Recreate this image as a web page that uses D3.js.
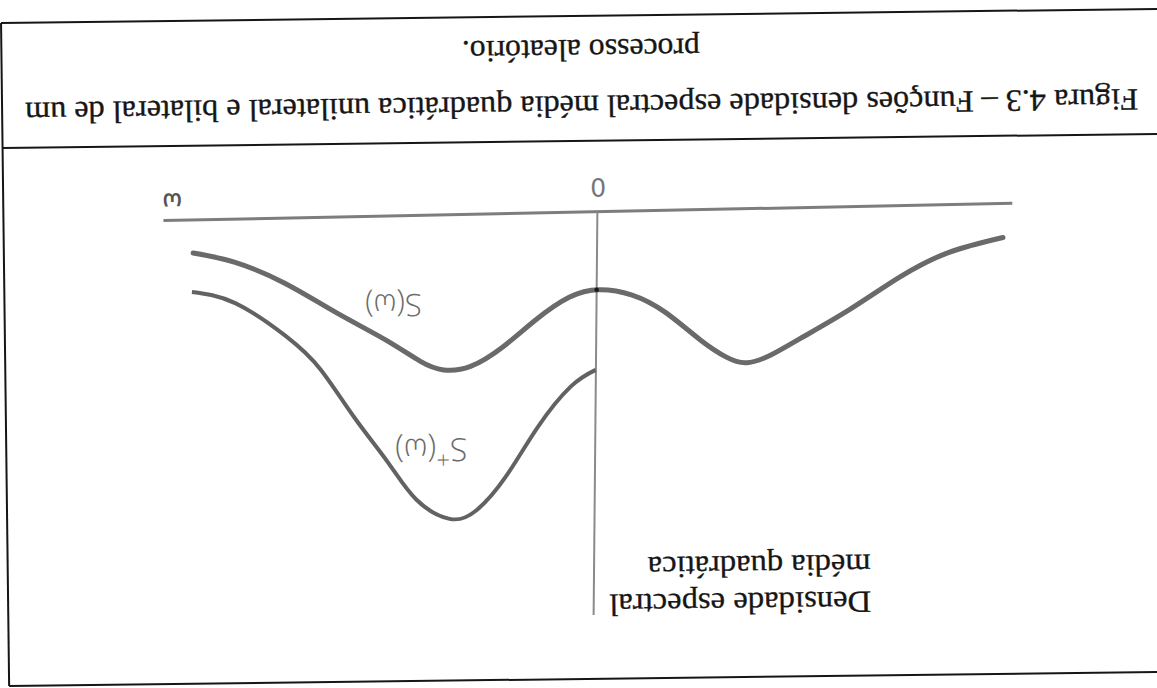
<!DOCTYPE html>
<html>
<head>
<meta charset="utf-8">
<script src="https://cdn.jsdelivr.net/npm/d3@7"></script>
<style>
  html, body { margin: 0; padding: 0; background: #ffffff; }
  svg { display: block; }
</style>
</head>
<body>
<svg id="fig" width="1157" height="688"></svg>
<script>
// Angular frequency samples (ω) and readings of the mean-square spectral density
const omegaTwoSided = [-4.05, -3.5, -3.0, -2.5, -2.0, -1.7, -1.46, -1.26, -1.0, -0.66, -0.33, 0,
                       0.3, 0.64, 0.97, 1.3, 1.57, 1.8, 2.14, 2.64, 3.14, 3.64, 4.05];
const sTwoSided     = [0.34, 0.48, 0.72, 1.03, 1.31, 1.47, 1.54, 1.48, 1.30, 1.02, 0.84, 0.78,
                       0.85, 1.07, 1.33, 1.52, 1.55, 1.46, 1.24, 0.95, 0.65, 0.43, 0.33];
const omegaOneSided = [0.05, 0.3, 0.64, 0.97, 1.27, 1.54, 1.87, 2.14, 2.47, 2.8, 3.14, 3.64, 4.07];
const sOneSided     = [1.58, 1.74, 2.14, 2.63, 2.96, 3.04, 2.84, 2.47, 2.01, 1.52, 1.18, 0.84, 0.72];

const omegaDomain = [-4.15, 4.34];
const sDomain = [0, 4.03];

const captionLines = [
  "Figura 4.3 – Funções densidade espectral média quadrática unilateral e bilateral de um",
  "processo aleatório."
];
const yAxisTitle = ["Densidade espectral", "média quadrática"];
const originLabel = "0";
const omegaLabel = "ω";

const W = 1157, H = 688;
const svg = d3.select("#fig");

// The printed page sits upside down and slightly askew
const page = svg.append("g")
  .attr("transform", `rotate(179.3, ${W / 2}, ${H / 2})`);

const ink = "#161616";

// Page frame and caption separator
page.append("line").attr("x1", -30).attr("x2", 1152).attr("y1", 9).attr("y2", 9)
  .attr("stroke", ink).attr("stroke-width", 2);
page.append("line").attr("x1", -30).attr("x2", 1152).attr("y1", 672).attr("y2", 672)
  .attr("stroke", ink).attr("stroke-width", 2);
page.append("line").attr("x1", -30).attr("x2", 1152).attr("y1", 547).attr("y2", 547)
  .attr("stroke", ink).attr("stroke-width", 2);
page.append("line").attr("x1", 1152).attr("x2", 1152).attr("y1", 9).attr("y2", 672)
  .attr("stroke", ink).attr("stroke-width", 2);

// Caption
const serif = "'Liberation Serif', 'Times New Roman', serif";
const captionWidths = [1113, 238];
const captionBaselines = [592, 648];
captionLines.forEach((t, i) => {
  page.append("text")
    .attr("x", 572.5).attr("y", captionBaselines[i])
    .attr("text-anchor", "middle")
    .attr("font-family", serif).attr("font-size", 31)
    .attr("fill", ink).attr("stroke", ink).attr("stroke-width", 0.35)
    .attr("textLength", captionWidths[i]).attr("lengthAdjust", "spacingAndGlyphs")
    .text(t);
});

// Chart scales
const x = d3.scaleLinear().domain(omegaDomain).range([143, 992]);
const y = d3.scaleLinear().domain(sDomain).range([476, 73]);
const axisLean = 12; // the hand-drawn density axis leans slightly

const chart = page.append("g")
  .attr("transform", `rotate(-0.47, ${x(0)}, ${y(0)})`);

// ω axis
chart.append("line")
  .attr("x1", x(omegaDomain[0])).attr("x2", x(omegaDomain[1]))
  .attr("y1", y(0)).attr("y2", y(0))
  .attr("stroke", "#7d7d7d").attr("stroke-width", 3);

// Density axis
chart.append("line")
  .attr("x1", x(0)).attr("x2", x(0) + axisLean)
  .attr("y1", y(0)).attr("y2", y(sDomain[1]))
  .attr("stroke", "#8a8a8a").attr("stroke-width", 2);

const line = d3.line()
  .x(d => x(d[0]))
  .y(d => y(d[1]))
  .curve(d3.curveNatural);

// Two-sided density S(ω)
chart.append("path")
  .datum(d3.zip(omegaTwoSided, sTwoSided))
  .attr("d", line)
  .attr("fill", "none").attr("stroke", "#6a6a6a").attr("stroke-width", 5)
  .attr("stroke-linecap", "round");

// One-sided density S+(ω)
chart.append("path")
  .datum(d3.zip(omegaOneSided, sOneSided))
  .attr("d", line)
  .attr("fill", "none").attr("stroke", "#626262").attr("stroke-width", 4)
  .attr("stroke-linecap", "butt");

// Junction of S(ω) with the density axis
const s0 = sTwoSided[omegaTwoSided.indexOf(0)];
chart.append("circle")
  .attr("cx", x(0) + axisLean * s0 / sDomain[1]).attr("cy", y(s0))
  .attr("r", 2.3).attr("fill", "#1a1a1a");

// Hand-lettered labels
const sans = "'Open Sans', 'DejaVu Sans', sans-serif";
page.append("text")
  .attr("x", 557).attr("y", 501)
  .attr("text-anchor", "middle").attr("dominant-baseline", "central")
  .attr("font-family", "'DejaVu Sans', sans-serif").attr("font-size", 25)
  .attr("fill", "#777")
  .text(originLabel);

page.append("text")
  .attr("x", 983).attr("y", 490)
  .attr("text-anchor", "middle").attr("dominant-baseline", "central")
  .attr("font-family", sans).attr("font-size", 24).attr("font-weight", 600)
  .attr("fill", "#555")
  .text(omegaLabel);

page.append("text")
  .attr("x", 763).attr("y", 384)
  .attr("text-anchor", "middle").attr("dominant-baseline", "central")
  .attr("font-family", sans).attr("font-size", 31).attr("font-weight", 300)
  .attr("fill", "#6a6a6a")
  .text("S(ω)");

const sPlus = page.append("text")
  .attr("x", 727).attr("y", 238)
  .attr("text-anchor", "middle").attr("dominant-baseline", "central")
  .attr("font-family", sans).attr("font-size", 32).attr("font-weight", 300)
  .attr("fill", "#6a6a6a");
sPlus.append("tspan").text("S");
sPlus.append("tspan").attr("font-size", 24).attr("dy", -10).text("+");
sPlus.append("tspan").attr("dy", 10).text("(ω)");

// Density axis title
const titleBaselines = [93, 130];
const titleWidths = [262, 223];
yAxisTitle.forEach((t, i) => {
  page.append("text")
    .attr("x", 289).attr("y", titleBaselines[i])
    .attr("font-family", serif).attr("font-size", 31)
    .attr("fill", ink).attr("stroke", ink).attr("stroke-width", 0.3)
    .attr("textLength", titleWidths[i]).attr("lengthAdjust", "spacingAndGlyphs")
    .text(t);
});
</script>
</body>
</html>
